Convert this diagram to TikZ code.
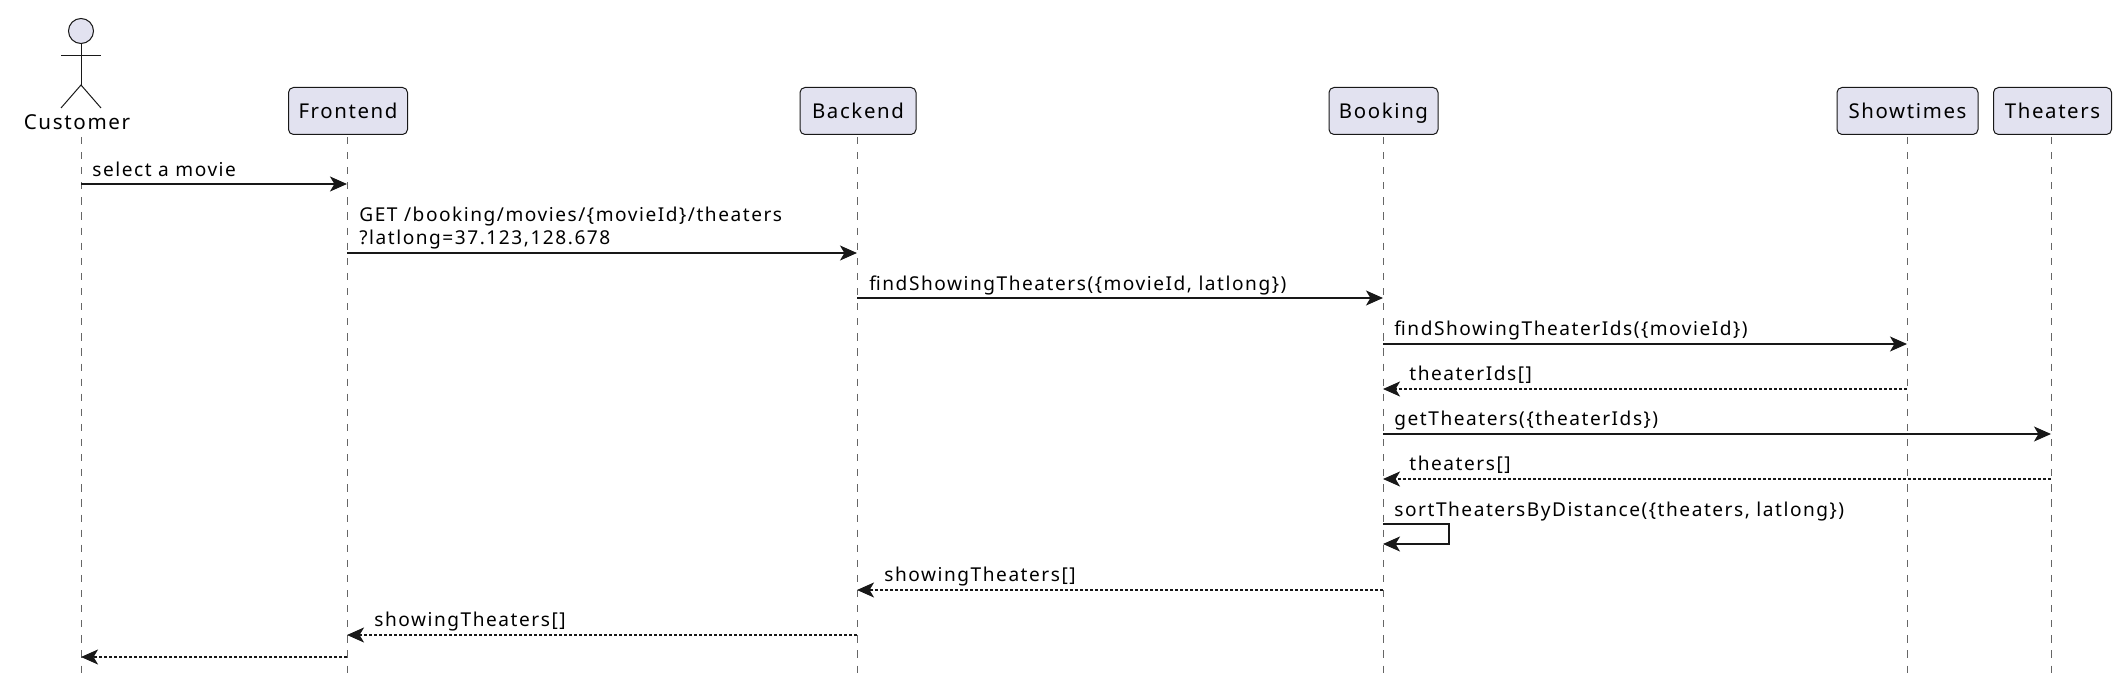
\documentclass[tikz,border=0pt]{standalone}
\usepackage{fontspec}
\setmainfont[LetterSpace=8]{Noto Sans}
\usetikzlibrary{arrows.meta}
\definecolor{pfill}{HTML}{E2E2F0}
\definecolor{pline}{HTML}{181818}
\tikzset{
  x=0.5pt,y=-0.5pt,
  lifeline/.style={draw=gray!80!black,line width=0.5pt,dash pattern=on 3.6pt off 3.95pt},
  part/.style={draw=pline,fill=pfill,rounded corners=2.5pt,line width=0.5pt,minimum height=23.5pt,inner sep=0pt,text=black,text height=10pt,text depth=2.5pt,font=\fontsize{10.2}{12}\selectfont},
  actorline/.style={draw=pline,line width=0.5pt},
  msg/.style={draw=pline,line width=0.7pt,-{Stealth[length=8.5pt,width=7.5pt,inset=2.2pt]}},
  ret/.style={msg,dash pattern=on 1.3pt off 1.2pt},
  lbl/.style={anchor=base west,inner sep=0pt,text=black,font=\fontsize{9.55}{11}\selectfont},
}
\begin{document}
\begin{tikzpicture}
\useasboundingbox (0,0) rectangle (2122,674);
% lifeline axes
\coordinate (Lc) at (81,137);
\coordinate (Lf) at (347,137);
\coordinate (Lb) at (857,137);
\coordinate (Lk) at (1383,137);
\coordinate (Ls) at (1907,137);
\coordinate (Lt) at (2051,137);
\coordinate (bot) at (0,674);
\foreach \n in {Lc,Lf,Lb,Lk,Ls,Lt}{\draw[lifeline] (\n) -- (\n |- bot);}
% participants
\node[part,minimum width=59.5pt] (fe) at (348,111) {Frontend};
\node[part,minimum width=58pt] (be) at (858,111) {Backend};
\node[part,minimum width=54.5pt] (bk) at (1383.5,111) {Booking};
\node[part,minimum width=70.5pt] (sh) at (1907.5,111) {Showtimes};
\node[part,minimum width=59pt] (th) at (2052.5,111) {Theaters};
% actor
\node[circle,draw=pline,fill=pfill,line width=0.5pt,minimum size=12.5pt,inner sep=0pt] (head) at (81,31) {};
\coordinate (armL) at (61,55.5);
\coordinate (armR) at (101,55.5);
\coordinate (hip) at (81,85);
\coordinate (legL) at (61,108);
\coordinate (legR) at (101,108);
\draw[actorline] (head.south) -- (hip);
\draw[actorline] (armL) -- (armR);
\draw[actorline] (legL) -- (hip) -- (legR);
\node[anchor=base,inner sep=0pt,font=\fontsize{10.3}{12}\selectfont] (cust) at (77,130) {Customer};
% messages
\coordinate (y1) at (0,184);
\coordinate (y2) at (0,253);
\coordinate (y3) at (0,298);
\coordinate (y4) at (0,344);
\coordinate (y5) at (0,389);
\coordinate (y6) at (0,434);
\coordinate (y7) at (0,479);
\coordinate (y8) at (0,524);
\coordinate (y8b) at (0,544);
\coordinate (y9) at (0,590);
\coordinate (y10) at (0,635);
\coordinate (y11) at (0,657);
\draw[msg] (Lc |- y1) -- (Lf |- y1);
\node[lbl] (m1) at (92,176.5) {select a movie};
\draw[msg] (Lf |- y2) -- (Lb |- y2);
\node[lbl] (m2a) at (359,221) {GET /booking/movies/\{movieId\}/theaters};
\node[lbl] (m2b) at (359,244) {?latlong=37.123,128.678};
\draw[msg] (Lb |- y3) -- (Lk |- y3);
\node[lbl] (m3) at (869,290) {findShowingTheaters(\{movieId, latlong\})};
\draw[msg] (Lk |- y4) -- (Ls |- y4);
\node[lbl] (m4) at (1394,335) {findShowingTheaterIds(\{movieId\})};
\draw[ret] (Ls |- y5) -- (Lk |- y5);
\node[lbl] (m5) at (1409,380) {theaterIds[]};
\draw[msg] (Lk |- y6) -- (Lt |- y6);
\node[lbl] (m6) at (1394,425.5) {getTheaters(\{theaterIds\})};
\draw[ret] (Lt |- y7) -- (Lk |- y7);
\node[lbl] (m7) at (1409,470.5) {theaters[]};
\coordinate (sr) at (1449,0);
\draw[msg] (Lk |- y8) -- (sr |- y8) -- (sr |- y8b) -- (Lk |- y8b);
\node[lbl] (m8) at (1394,516) {sortTheatersByDistance(\{theaters, latlong\})};
\draw[ret] (Lk |- y9) -- (Lb |- y9);
\node[lbl] (m9) at (884,581) {showingTheaters[]};
\draw[ret] (Lb |- y10) -- (Lf |- y10);
\node[lbl] (m10) at (374,626.5) {showingTheaters[]};
\draw[ret] (Lf |- y11) -- (Lc |- y11);
\end{tikzpicture}
\end{document}
